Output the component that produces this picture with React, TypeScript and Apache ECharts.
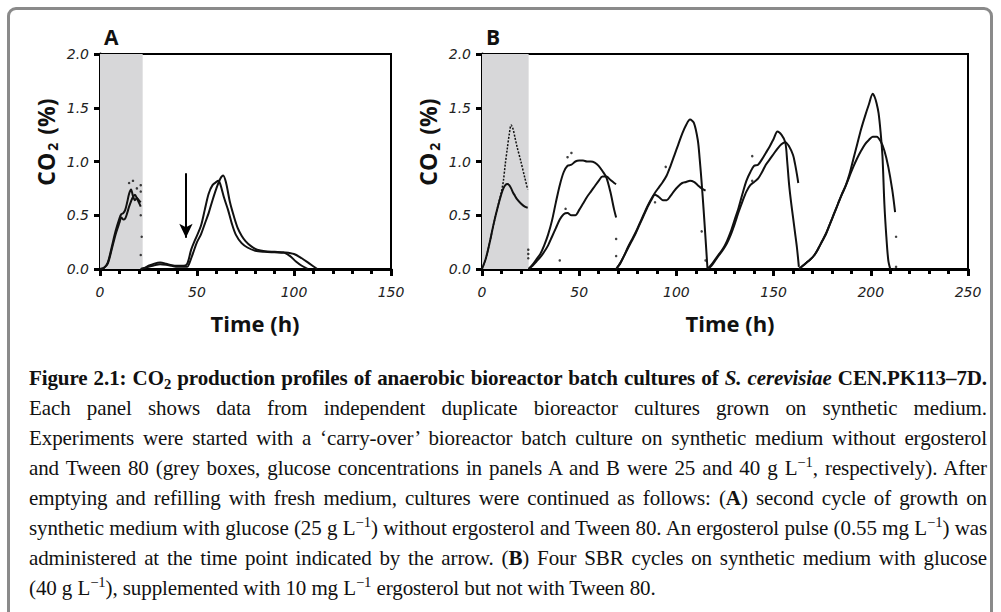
import React, { useEffect, useRef } from "react";
import * as echarts from "echarts";

// ---------- Panel A data ----------
const aGrayT = [0, 2, 4, 6, 8, 10, 11, 12, 13, 14, 15, 16, 17, 18, 19, 20, 21];
const aGrayV1 = [0, 0.01, 0.06, 0.2, 0.35, 0.47, 0.51, 0.52, 0.55, 0.62, 0.7, 0.74, 0.68, 0.64, 0.66, 0.64, 0.62];
const aGrayV2 = [0, 0.01, 0.05, 0.18, 0.32, 0.43, 0.48, 0.46, 0.47, 0.52, 0.58, 0.63, 0.67, 0.69, 0.66, 0.62, 0.58];

const aCycT1 = [21, 23, 25, 28, 31, 34, 37, 40, 43, 45, 47, 49, 52, 54, 56, 58, 60, 61, 62, 64, 66, 68, 70, 73, 76, 80, 85, 90, 95, 98, 101, 104, 107];
const aCycV1 = [0, 0.01, 0.03, 0.05, 0.06, 0.05, 0.035, 0.03, 0.03, 0.05, 0.18, 0.27, 0.4, 0.55, 0.7, 0.78, 0.81, 0.82, 0.79, 0.66, 0.55, 0.42, 0.32, 0.24, 0.2, 0.17, 0.16, 0.155, 0.15, 0.12, 0.07, 0.03, 0];
const aCycT2 = [21, 23, 25, 28, 31, 34, 37, 40, 43, 45, 46, 48, 50, 52, 54, 56, 58, 60, 62, 63.5, 65, 67, 69, 71, 73, 75, 78, 81, 85, 90, 95, 100, 104, 108, 112];
const aCycV2 = [0, 0.01, 0.02, 0.035, 0.045, 0.04, 0.03, 0.02, 0.02, 0.02, 0.05, 0.15, 0.25, 0.32, 0.42, 0.52, 0.64, 0.75, 0.84, 0.87, 0.8, 0.62, 0.49, 0.38, 0.31, 0.26, 0.21, 0.18, 0.165, 0.16, 0.155, 0.14, 0.1, 0.05, 0];

const aDots = [[21, 0.78], [21, 0.72], [21, 0.5], [21.5, 0.3], [21, 0.13], [17, 0.82], [15, 0.8], [19, 0.75]];
const aArrowT = 44.3;
const aArrowFrom = 0.89;
const aArrowTo = 0.29;
const aGrayEnd = 22;

// ---------- Panel B data ----------
const b1T = [0, 2, 4, 6, 8, 10, 11, 12, 13, 14, 15, 16, 17, 18, 20, 22, 23.5];
const b1V1 = [0, 0.1, 0.25, 0.42, 0.57, 0.7, 0.75, 0.78, 0.79, 0.78, 0.75, 0.71, 0.68, 0.65, 0.61, 0.58, 0.57];
const b1V2 = [0, 0.1, 0.25, 0.42, 0.57, 0.72, 0.82, 0.98, 1.12, 1.25, 1.34, 1.3, 1.22, 1.14, 1.0, 0.85, 0.74];

const b2T = [24, 26, 28, 30, 32, 34, 36, 38, 40, 42, 44, 46, 48, 50, 52, 54, 56, 58, 60, 62, 64, 66, 68, 69];
const b2V1 = [0, 0.04, 0.09, 0.14, 0.22, 0.32, 0.45, 0.62, 0.78, 0.9, 0.96, 0.97, 1.0, 1.01, 1.01, 1.0, 1.0, 0.99, 0.96, 0.91, 0.85, 0.72, 0.55, 0.48];
const b2V2 = [0, 0.03, 0.07, 0.11, 0.16, 0.22, 0.3, 0.38, 0.46, 0.51, 0.52, 0.5, 0.5, 0.55, 0.61, 0.67, 0.72, 0.77, 0.82, 0.86, 0.86, 0.83, 0.8, 0.79];

const b3T1 = [69, 71, 73, 75, 77, 79, 81, 83, 85, 87, 89, 91, 93, 95, 97, 99, 101, 103, 105, 107, 109, 111, 112, 113, 114, 115, 116];
const b3V1 = [0, 0.05, 0.12, 0.2, 0.27, 0.34, 0.42, 0.5, 0.58, 0.65, 0.71, 0.76, 0.81, 0.87, 0.96, 1.06, 1.16, 1.26, 1.34, 1.39, 1.36, 1.2, 1.02, 0.8, 0.55, 0.28, 0];
const b3T2 = [69, 71, 73, 75, 77, 79, 81, 83, 85, 87, 89, 91, 93, 95, 97, 99, 101, 103, 105, 107, 109, 111, 113, 115];
const b3V2 = [0, 0.05, 0.12, 0.19, 0.26, 0.33, 0.41, 0.49, 0.57, 0.64, 0.69, 0.67, 0.64, 0.64, 0.68, 0.73, 0.77, 0.8, 0.81, 0.82, 0.81, 0.78, 0.75, 0.73];

const b4T1 = [116, 118, 120, 122, 124, 126, 128, 130, 132, 134, 136, 138, 140, 142, 144, 146, 148, 150, 152, 154, 156, 157, 158, 159, 160, 161, 162, 163];
const b4V1 = [0, 0.04, 0.09, 0.14, 0.19, 0.26, 0.35, 0.46, 0.57, 0.7, 0.82, 0.9, 0.96, 0.97, 1.02, 1.08, 1.14, 1.21, 1.28, 1.25, 1.18, 1.0, 0.78, 0.62, 0.48, 0.34, 0.2, 0.02];
const b4T2 = [116, 118, 120, 122, 124, 126, 128, 130, 132, 134, 136, 138, 140, 142, 144, 146, 148, 150, 152, 154, 156, 158, 160, 161, 162, 162.7];
const b4V2 = [0, 0.03, 0.08, 0.13, 0.18, 0.24, 0.32, 0.42, 0.53, 0.63, 0.72, 0.78, 0.81, 0.84, 0.9, 0.97, 1.02, 1.07, 1.12, 1.16, 1.18, 1.14, 1.06, 0.98, 0.88, 0.8];

const b5T1 = [163, 165, 167, 169, 171, 173, 175, 177, 179, 181, 183, 185, 187, 189, 191, 193, 195, 197, 199, 201, 202, 203, 204, 205, 206, 207, 208, 209, 210];
const b5V1 = [0, 0.03, 0.06, 0.09, 0.13, 0.19, 0.26, 0.33, 0.42, 0.51, 0.6, 0.69, 0.77, 0.88, 1.02, 1.16, 1.3, 1.42, 1.53, 1.63, 1.6, 1.54, 1.45, 1.28, 1.05, 0.6, 0.3, 0.08, 0];
const b5T2 = [163, 165, 167, 169, 171, 173, 175, 177, 179, 181, 183, 185, 187, 189, 191, 193, 195, 197, 199, 201, 203, 205, 207, 209, 211, 212.5];
const b5V2 = [0, 0.03, 0.06, 0.09, 0.13, 0.19, 0.26, 0.33, 0.42, 0.51, 0.6, 0.69, 0.77, 0.86, 0.95, 1.03, 1.1, 1.16, 1.2, 1.23, 1.23, 1.19, 1.1, 0.95, 0.74, 0.53];

const bDots = [[23.8, 0.18], [23.8, 0.14], [23.8, 0.1], [40, 0.08], [46, 1.08], [43, 0.56], [44, 1.04], [69, 0.28], [69, 0.12], [94.5, 0.95], [89, 0.62], [113, 0.35], [115, 0.08], [139, 1.05], [139, 0.82], [213, 0.3], [213, 0.02], [212, 0.0]];
const bGrayEnd = 24;

// ---------- Axis ticks ----------
const yMin = 0;
const yMax = 2;
const yStep = 0.5;
const xStep = 50;
const aXMax = 150;
const bXMax = 250;

const pairs = (t: number[], v: number[]) => t.map((x, i) => [x, v[i]]);

const LABEL_FONT = { fontFamily: "'DejaVu Sans', sans-serif", fontStyle: "italic" as const, fontWeight: 300 as const, fontSize: 14, color: "#222" };
const NAME_FAMILY = "'Open Sans', sans-serif";

function xAxis(gridIndex: number, max: number) {
  return {
    gridIndex,
    type: "value",
    min: 0,
    max,
    interval: xStep,
    axisLine: { show: true, lineStyle: { color: "#000", width: 3 } },
    axisTick: { show: true, length: 7, lineStyle: { color: "#000", width: 3 } },
    minorTick: { show: true, splitNumber: 5, length: 5, lineStyle: { color: "#000", width: 3 } },
    axisLabel: { ...LABEL_FONT, margin: 16 },
    splitLine: { show: false },
  };
}

function yAxis(gridIndex: number) {
  return {
    gridIndex,
    type: "value",
    min: yMin,
    max: yMax,
    interval: yStep,
    axisLine: { show: true, lineStyle: { color: "#000", width: 3 } },
    axisTick: { show: true, length: 6, lineStyle: { color: "#000", width: 3 } },
    axisLabel: { ...LABEL_FONT, margin: 11, formatter: (v: number) => v.toFixed(1) },
    splitLine: { show: false },
  };
}

function line(idx: number, data: number[][], extra: any = {}) {
  return {
    type: "line",
    xAxisIndex: idx,
    yAxisIndex: idx,
    data,
    showSymbol: false,
    smooth: 0.3,
    lineStyle: { color: "#111", width: 2 },
    z: 3,
    ...extra,
  };
}

function yName(x: number, y: number) {
  return {
    type: "text",
    x,
    y,
    rotation: Math.PI / 2,
    style: {
      text: "{a|CO}{s|2}{a| (%)}",
      align: "center",
      verticalAlign: "middle",
      rich: {
        a: { fontFamily: NAME_FAMILY, fontWeight: "bold", fontSize: 23, fill: "#111" },
        s: { fontFamily: NAME_FAMILY, fontWeight: "bold", fontSize: 14, fill: "#111", padding: [12, 2, 0, 2] },
      },
    },
  };
}

function xName(x: number, y: number) {
  return {
    type: "text",
    x,
    y,
    style: {
      text: "Time (h)",
      align: "center",
      verticalAlign: "middle",
      font: `bold 22px ${NAME_FAMILY}`,
      fill: "#111",
    },
  };
}

export default function App() {
  const ref = useRef<HTMLDivElement>(null);
  useEffect(() => {
    if (!ref.current) return;
    const chart = echarts.init(ref.current, undefined, { renderer: "svg" });
    const option: any = {
      animation: false,
      backgroundColor: "transparent",
      grid: [
        { left: 100, top: 54, width: 291, height: 215, show: true, borderColor: "#000", borderWidth: 2 },
        { left: 482, top: 54, width: 486, height: 215, show: true, borderColor: "#000", borderWidth: 2 },
      ],
      xAxis: [xAxis(0, aXMax), xAxis(1, bXMax)],
      yAxis: [yAxis(0), yAxis(1)],
      graphic: [
        { type: "text", left: 104, top: 26, style: { text: "A", font: `bold 21px ${NAME_FAMILY}`, fill: "#111" } },
        { type: "text", left: 486, top: 26, style: { text: "B", font: `bold 21px ${NAME_FAMILY}`, fill: "#111" } },
        yName(46, 142),
        yName(428, 142),
        xName(255, 323),
        xName(730, 323),
      ],
      series: [
        line(0, pairs(aGrayT, aGrayV1), {
          z: 2,
          markArea: { silent: true, itemStyle: { color: "#d7d7d9" }, data: [[{ xAxis: 0 }, { xAxis: aGrayEnd }]] },
        }),
        line(0, pairs(aGrayT, aGrayV2)),
        line(0, pairs(aCycT1, aCycV1), {
          markLine: {
            silent: true,
            symbol: ["none", "arrow"],
            symbolSize: [10, 14],
            label: { show: false },
            lineStyle: { color: "#000", width: 2, type: "solid" },
            data: [[{ coord: [aArrowT, aArrowFrom] }, { coord: [aArrowT, aArrowTo] }]],
          },
        }),
        line(0, pairs(aCycT2, aCycV2)),
        { type: "scatter", xAxisIndex: 0, yAxisIndex: 0, data: aDots, symbolSize: 2.5, itemStyle: { color: "#111" }, z: 3 },

        line(1, pairs(b1T, b1V1), {
          z: 2,
          markArea: { silent: true, itemStyle: { color: "#d7d7d9" }, data: [[{ xAxis: 0 }, { xAxis: bGrayEnd }]] },
        }),
        line(1, pairs(b1T, b1V2), { lineStyle: { color: "#111", width: 1.5, type: [2, 1.5] } }),
        line(1, pairs(b2T, b2V1)),
        line(1, pairs(b2T, b2V2)),
        line(1, pairs(b3T1, b3V1)),
        line(1, pairs(b3T2, b3V2)),
        line(1, pairs(b4T1, b4V1)),
        line(1, pairs(b4T2, b4V2)),
        line(1, pairs(b5T1, b5V1)),
        line(1, pairs(b5T2, b5V2)),
        { type: "scatter", xAxisIndex: 1, yAxisIndex: 1, data: bDots, symbolSize: 2.5, itemStyle: { color: "#111" }, z: 3 },
      ],
    };
    chart.setOption(option);
    return () => chart.dispose();
  }, []);

  const lineStyleJ: React.CSSProperties = { textAlign: "justify", textAlignLast: "justify", whiteSpace: "nowrap" };
  const supS: React.CSSProperties = { fontSize: "0.7em", verticalAlign: "0.55em", lineHeight: 0 };
  const subS: React.CSSProperties = { fontSize: "0.7em", verticalAlign: "-0.3em", lineHeight: 0 };
  const inv = <span style={supS}>−1</span>;

  return (
    <div style={{ position: "fixed", left: 0, top: 0, width: 1001, height: 612, overflow: "hidden", background: "#fff" }}>
      <div
        style={{
          position: "absolute",
          left: 7,
          top: 7,
          width: 986,
          height: 700,
          boxSizing: "border-box",
          border: "3px solid #8a8a8a",
          borderRadius: 9,
        }}
      />
      <div ref={ref} style={{ position: "absolute", left: 0, top: 0, width: 1001, height: 350 }} />
      <div
        style={{
          position: "absolute",
          left: 29,
          top: 363,
          width: 958,
          fontFamily: "'Liberation Serif', serif",
          fontSize: 21,
          letterSpacing: "-0.1px",
          lineHeight: "30px",
          color: "#111",
        }}
      >
        <div style={{ ...lineStyleJ, fontWeight: "bold" }}>
          Figure 2.1: CO<span style={subS}>2</span> production profiles of anaerobic bioreactor batch cultures of{" "}
          <i>S. cerevisiae</i> CEN.PK113–7D.
        </div>
        <div style={lineStyleJ}>Each panel shows data from independent duplicate bioreactor cultures grown on synthetic medium.</div>
        <div style={lineStyleJ}>Experiments were started with a ‘carry-over’ bioreactor batch culture on synthetic medium without ergosterol</div>
        <div style={lineStyleJ}>
          and Tween 80 (grey boxes, glucose concentrations in panels A and B were 25 and 40 g L{inv}, respectively). After
        </div>
        <div style={lineStyleJ}>
          emptying and refilling with fresh medium, cultures were continued as follows: (<b>A</b>) second cycle of growth on
        </div>
        <div style={lineStyleJ}>
          synthetic medium with glucose (25 g L{inv}) without ergosterol and Tween 80. An ergosterol pulse (0.55 mg L{inv}) was
        </div>
        <div style={lineStyleJ}>
          administered at the time point indicated by the arrow. (<b>B</b>) Four SBR cycles on synthetic medium with glucose
        </div>
        <div style={{ whiteSpace: "nowrap" }}>
          (40 g L{inv}), supplemented with 10 mg L{inv} ergosterol but not with Tween 80.
        </div>
      </div>
    </div>
  );
}
